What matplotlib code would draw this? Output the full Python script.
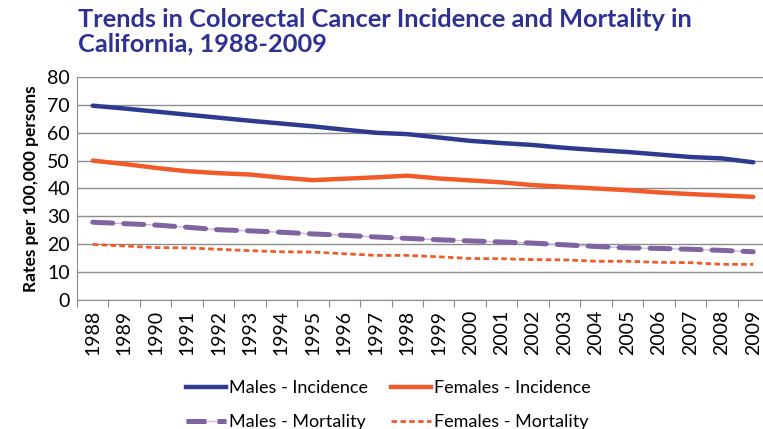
import numpy as np
import matplotlib
matplotlib.use('Agg')
import matplotlib.pyplot as plt
from matplotlib.lines import Line2D

plt.rcParams['font.family'] = ['Lato', 'DejaVu Sans']

# donnees (taux pour 100 000)
years = [str(y) for y in range(1988, 2010)]
males_inc = [69.7, 68.7, 67.6, 66.5, 65.4, 64.3, 63.3, 62.3, 61.1, 60.0, 59.5,
             58.3, 57.1, 56.3, 55.6, 54.6, 53.8, 53.1, 52.2, 51.3, 50.8, 49.4]
females_inc = [50.0, 48.8, 47.4, 46.2, 45.5, 45.0, 43.9, 43.0, 43.5, 44.0, 44.6,
               43.6, 42.9, 42.2, 41.2, 40.6, 40.0, 39.4, 38.6, 38.0, 37.5, 37.0]
males_mort = [27.9, 27.4, 26.9, 26.1, 25.2, 24.8, 24.3, 23.7, 23.2, 22.6, 22.1,
              21.6, 21.2, 20.8, 20.4, 19.8, 19.2, 18.7, 18.5, 18.2, 17.8, 17.3]
females_mort = [19.9, 19.4, 18.8, 18.7, 18.2, 17.7, 17.3, 17.2, 16.6, 16.0, 16.0,
                15.5, 14.9, 14.8, 14.5, 14.4, 13.9, 13.9, 13.5, 13.4, 12.8, 12.8]
yticks = [0, 10, 20, 30, 40, 50, 60, 70, 80]

blue = '#2e3a8f'
orange = '#f15a29'
purple = '#8064a2'

fig = plt.figure(figsize=(7.63, 4.29), dpi=100)
ax = fig.add_axes([77/763, 1-300/429, 692/763, 223/429])

x = np.arange(len(years))
ax.plot(x, males_inc, color=blue, lw=3.2, solid_capstyle='round')
ax.plot(x, females_inc, color=orange, lw=3.2, solid_capstyle='round')
# ligne fine + tirets epais pour la mortalite hommes
ax.plot(x, males_mort, color='#c9bcdc', lw=1.0)
ax.plot(x, males_mort, color=purple, lw=3.6, dashes=(4, 2.2), dash_capstyle='round')
ax.plot(x, females_mort, color=orange, lw=2.0, dashes=(2, 1.2))

ax.set_xlim(-0.5, len(years)-0.5)
ax.set_ylim(0, 80)
ax.set_yticks(yticks)
ax.tick_params(axis='y', length=0, labelsize=14, pad=5)
ax.yaxis.grid(True, color='#8c8c8c', lw=1.0)
ax.set_axisbelow(True)

ax.set_xticks(np.arange(len(years)+1)-0.5)
ax.set_xticklabels([])
ax.set_xticks(x, minor=True)
ax.set_xticklabels(years, minor=True, rotation=90, fontsize=14)
ax.tick_params(axis='x', which='major', length=5, color='#8c8c8c', direction='out')
ax.tick_params(axis='x', which='minor', length=0, pad=7)

for s in ['top', 'right']:
    ax.spines[s].set_visible(False)
ax.spines['left'].set_color('#8c8c8c')
ax.spines['bottom'].set_color('#8c8c8c')

ax.set_ylabel('Rates per 100,000 persons', fontsize=12.5, fontweight='bold', labelpad=6)

fig.text(78/763, 1-8/429, 'Trends in Colorectal Cancer Incidence and Mortality in\nCalifornia, 1988-2009',
         color='#2e3192', fontsize=18.3, fontweight='bold', ha='left', va='top', linespacing=1.1)

# legende: colonne hommes puis colonne femmes
handles = [Line2D([], [], color=blue, lw=3.2),
           (Line2D([], [], color='#c9bcdc', lw=1.0), Line2D([], [], color=purple, lw=3.6, dashes=(4, 2.2))),
           Line2D([], [], color=orange, lw=3.2),
           Line2D([], [], color=orange, lw=2.0, dashes=(2, 1.2))]
labels = ['Males - Incidence', 'Males - Mortality', 'Females - Incidence', 'Females - Mortality']
fig.legend(handles, labels, ncol=2, loc='upper left', bbox_to_anchor=(170/763, 1-364/429),
           frameon=False, fontsize=13, handlelength=2.2, handletextpad=0.15,
           columnspacing=1.3, labelspacing=1.0)

fig.savefig('out.png', dpi=100)
